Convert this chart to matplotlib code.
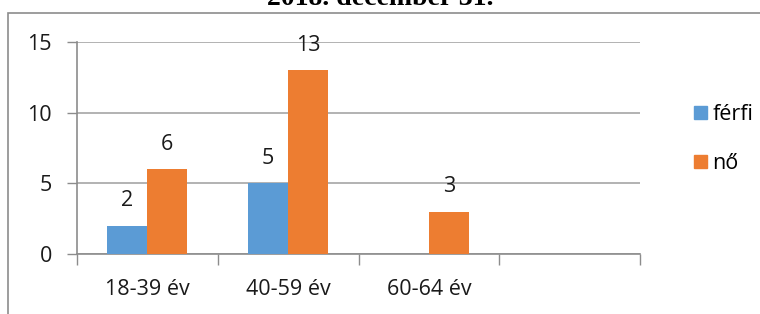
import matplotlib.pyplot as plt
import numpy as np
from matplotlib.patches import Rectangle

categories = ["18-39 év", "40-59 év", "60-64 év", ""]
ferfi = [2, 5, None, None]
no = [6, 13, 3, None]
series_names = ["férfi", "nő"]
colors = ["#5B9BD5", "#ED7D31"]
title = "2018. december 31."

W, H = 760, 314
FS = 15.5
fig = plt.figure(figsize=(W / 100, H / 100), dpi=100)
plt.rcParams["font.family"] = ["Open Sans", "DejaVu Sans"]

# axes placed in pixel coordinates: x 77..640, y 42..254
ax = fig.add_axes([77 / W, 1 - 254 / H, (640 - 77) / W, (254 - 42) / H])

# chart border (cut off at right and bottom like the source)
fig.patches.append(Rectangle((8 / W, -0.1), 1.2, 1 - 13 / H + 0.1,
                             transform=fig.transFigure, fill=False,
                             edgecolor="#8c8c8c", linewidth=1.2))

x = np.arange(len(categories))
bw = 40 / 141
for i, (vals, col) in enumerate(zip([ferfi, no], colors)):
    xs = [xi for xi, v in zip(x, vals) if v is not None]
    vs = [v for v in vals if v is not None]
    off = (i - 0.5) * bw
    ax.bar(np.array(xs) + off, vs, width=bw, color=col, zorder=3)
    for xi, v in zip(xs, vs):
        ax.annotate(str(v), (xi + off, v), xytext=(0, 14),
                    textcoords="offset points", ha="center", va="baseline",
                    fontsize=FS, color="#1a1a1a")

ax.set_xlim(-0.5, len(categories) - 0.5)
ax.set_ylim(0, 15)
ax.set_yticks([0, 5, 10, 15])
ax.yaxis.grid(True, color="#a6a6a6", linewidth=1.2, zorder=0)
ax.set_xticks(x)
ax.set_xticklabels(categories, fontsize=FS, color="#1a1a1a")
ax.tick_params(axis="x", length=0, pad=18)
ax.tick_params(axis="y", length=7, width=1, color="#8c8c8c",
               labelsize=FS, labelcolor="#1a1a1a", pad=11)
# category separator ticks
ax.set_xticks(np.arange(len(categories) + 1) - 0.5, minor=True)
ax.tick_params(axis="x", which="minor", length=8, width=1, color="#8c8c8c")
for s in ["top", "right"]:
    ax.spines[s].set_visible(False)
for s in ["left", "bottom"]:
    ax.spines[s].set_color("#8c8c8c")
    ax.spines[s].set_linewidth(1.2)

handles = [Rectangle((0, 0), 1, 1, color=c) for c in colors]
fig.legend(handles, series_names, loc="upper left",
           bbox_to_anchor=(694 / W, 1 - 104 / H), frameon=False,
           fontsize=FS, handlelength=0.6, handleheight=0.6,
           handletextpad=0.25, labelspacing=1.3, borderpad=0, borderaxespad=0)

fig.text(0.5, 1 - 5 / H, title, ha="center", va="baseline",
         fontsize=20, fontweight="bold", family="Liberation Serif")

fig.savefig("out.png", dpi=100)
